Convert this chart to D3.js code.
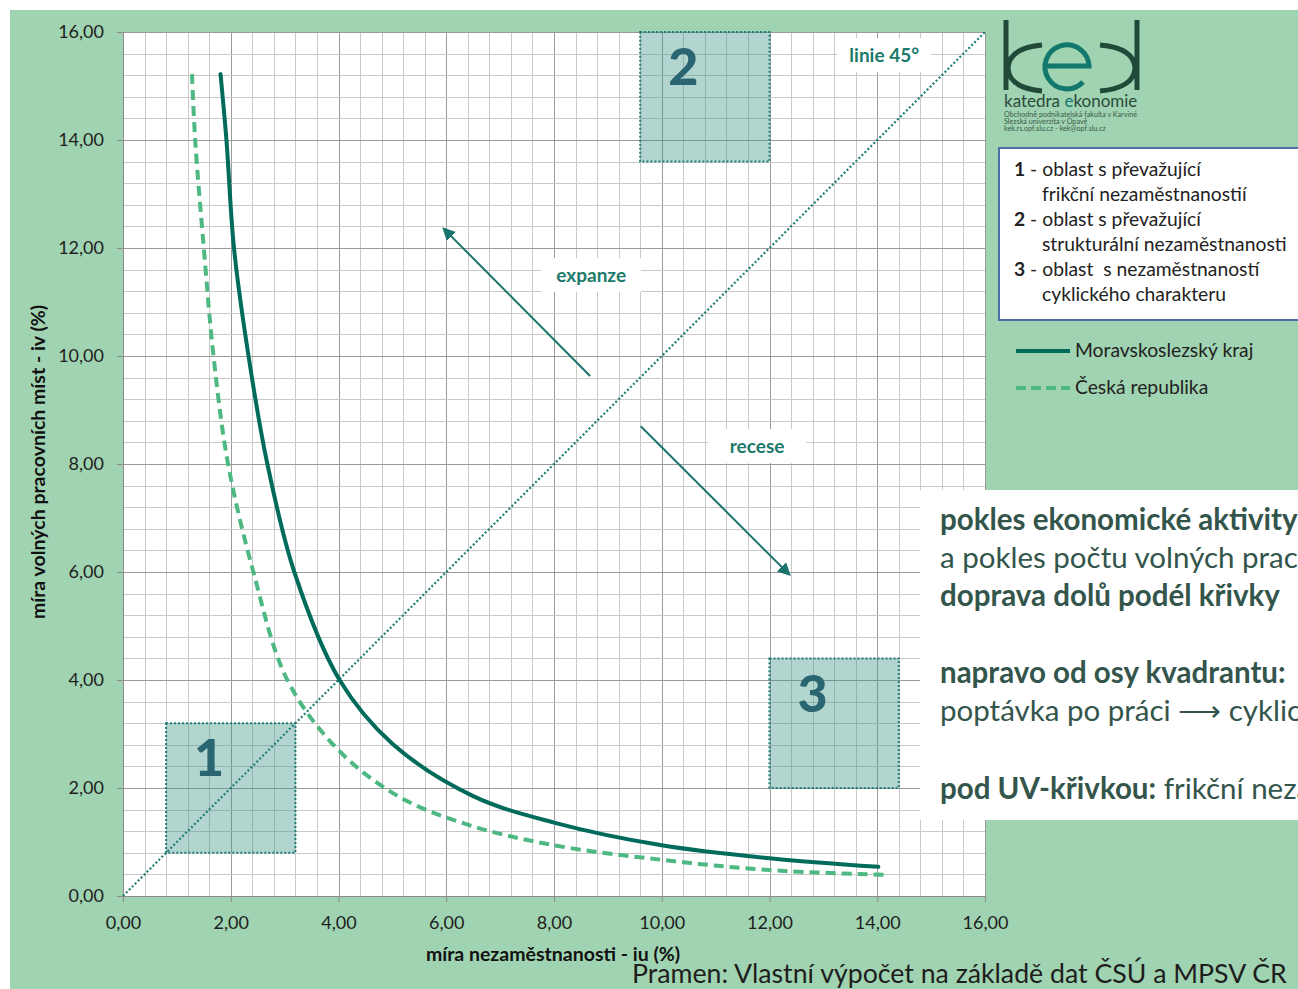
<!DOCTYPE html>
<html><head><meta charset="utf-8">
<script src="https://cdn.jsdelivr.net/npm/d3@7"></script>
<style>
body{margin:0;background:#fff;}
svg{display:block;font-family:Lato,'Open Sans',sans-serif;}
</style>
</head><body>
<svg id="c" width="1298" height="989"></svg>
<script>
// ---------- data ----------
const xTickValues = [0, 2, 4, 6, 8, 10, 12, 14, 16];
const yTickValues = [0, 2, 4, 6, 8, 10, 12, 14, 16];
const seriesNames = ["Moravskoslezský kraj", "Česká republika"];
// Moravskoslezský kraj (solid)
const mskX = [1.81, 1.92, 2.06, 2.33, 2.68, 3.18, 4.02, 5.0, 6.5, 8.0, 10.0, 12.0, 14.02];
const mskY = [15.22, 14.0, 12.0, 10.0, 8.0, 6.0, 4.0, 2.82, 1.85, 1.36, 0.94, 0.70, 0.54];
// Česká republika (dashed)
const crX = [1.28, 1.34, 1.50, 1.68, 1.95, 2.42, 3.05, 4.0, 5.14, 6.5, 8.0, 10.0, 12.0, 14.19];
const crY = [15.22, 14.0, 12.0, 10.0, 8.0, 6.0, 4.0, 2.70, 1.83, 1.29, 0.94, 0.67, 0.48, 0.39];
// line 45°
const diagX = [0, 16];
const diagY = [0, 16];
// regions
const regionNames = ["1", "2", "3"];
const regionX0 = [0.8, 9.6, 12.0];
const regionX1 = [3.2, 12.0, 14.4];
const regionY0 = [0.8, 13.6, 2.0];
const regionY1 = [3.2, 16.0, 4.4];
// arrows in data units
const arrowNames = ["expanze", "recese"];
const arrowFromX = [8.67, 9.61];
const arrowFromY = [9.63, 8.70];
const arrowToX = [5.96, 12.36];
const arrowToY = [12.35, 5.96];
const arrowLabelX = [8.69, 11.77];
const arrowLabelY = [11.50, 8.33];
const diagLabel = "linie 45°";
const diagLabelX = 14.13, diagLabelY = 15.57;
const legendNotes = [
  ["1", " - oblast s převažující", "frikční nezaměstnanostií"],
  ["2", " - oblast s převažující", "strukturální nezaměstnanosti"],
  ["3", " - oblast \u00A0s nezaměstnaností", "cyklického charakteru"]
];
const xTitle = "míra nezaměstnanosti - iu (%)";
const yTitle = "míra volných pracovních míst - iv (%)";
const source = "Pramen: Vlastní výpočet na základě dat ČSÚ a MPSV ČR";

// ---------- layout ----------
const W = 1298, H = 989;
const plot = {left: 123, right: 985, top: 32, bottom: 896};
const svg = d3.select("#c");
const GREEN = "#A0D3B1";
const TEAL = "#006B5B";
const LIGHT = "#4DB882";
const DOT = "#1E7D74";

svg.append("rect").attr("width", W).attr("height", H).attr("fill", "#fff");
svg.append("rect").attr("x", 10).attr("y", 10).attr("width", W - 10).attr("height", H - 10).attr("fill", GREEN);

const x = d3.scaleLinear().domain([0, 16]).range([plot.left, plot.right]);
const y = d3.scaleLinear().domain([0, 16]).range([plot.bottom, plot.top]);
const fmt = d => d.toFixed(2).replace(".", ",");

svg.append("rect").attr("x", plot.left).attr("y", plot.top)
  .attr("width", plot.right - plot.left).attr("height", plot.bottom - plot.top).attr("fill", "#fff");

// grid
const minor = d3.range(0, 16.0001, 0.4).map(v => +v.toFixed(1));
const isMajor = d => Math.abs(d / 2 - Math.round(d / 2)) < 1e-6;
const grid = svg.append("g");
grid.selectAll("line.vx").data(minor).join("line")
  .attr("x1", d => Math.round(x(d)) + 0.5).attr("x2", d => Math.round(x(d)) + 0.5)
  .attr("y1", plot.top).attr("y2", plot.bottom)
  .attr("stroke", d => isMajor(d) ? "#9A9A9A" : "#C9C9C9").attr("stroke-width", 1);
grid.selectAll("line.hy").data(minor).join("line")
  .attr("y1", d => Math.round(y(d)) + 0.5).attr("y2", d => Math.round(y(d)) + 0.5)
  .attr("x1", plot.left).attr("x2", plot.right)
  .attr("stroke", d => isMajor(d) ? "#9A9A9A" : "#C9C9C9").attr("stroke-width", 1);

// axes
const ax = svg.append("g").attr("transform", `translate(0,${plot.bottom})`)
  .call(d3.axisBottom(x).tickValues(xTickValues).tickFormat(fmt).tickSize(6).tickSizeOuter(0).tickPadding(14));
const ay = svg.append("g").attr("transform", `translate(${plot.left},0)`)
  .call(d3.axisLeft(y).tickValues(yTickValues).tickFormat(fmt).tickSize(6).tickSizeOuter(0).tickPadding(13));
[ax, ay].forEach(a => {
  a.select(".domain").attr("stroke", "#8C8C8C");
  a.selectAll(".tick line").attr("stroke", "#8C8C8C");
  a.selectAll(".tick text").attr("font-size", 18).attr("fill", "#1E1E1E").attr("font-family", "Lato, sans-serif");
});

// regions
const regions = regionNames.map((n, i) => ({n, x0: regionX0[i], x1: regionX1[i], y0: regionY0[i], y1: regionY1[i]}));
const rg = svg.append("g");
rg.selectAll("rect").data(regions).join("rect")
  .attr("x", d => x(d.x0)).attr("y", d => y(d.y1))
  .attr("width", d => x(d.x1) - x(d.x0)).attr("height", d => y(d.y0) - y(d.y1))
  .attr("fill", "rgba(65,150,135,0.4)")
  .attr("stroke", DOT).attr("stroke-width", 2).attr("stroke-dasharray", "2,2");
rg.selectAll("text").data(regions).join("text")
  .attr("x", d => x(d.x0 + 0.8)).attr("y", d => y(d.y1 - 0.65) + 18)
  .attr("text-anchor", "middle").attr("font-size", 52).attr("font-weight", 900)
  .attr("fill", "#2A6672").text(d => d.n);

// diagonal
const line = d3.line().x(d => x(d[0])).y(d => y(d[1]));
svg.append("path").datum(diagX.map((v, i) => [v, diagY[i]]))
  .attr("d", line).attr("fill", "none").attr("stroke", DOT)
  .attr("stroke-width", 2.2).attr("stroke-dasharray", "2,2.2");

// arrows
const defs = svg.append("defs");
defs.append("marker").attr("id", "ah").attr("viewBox", "0 0 10 10").attr("refX", 8).attr("refY", 5)
  .attr("markerWidth", 6.5).attr("markerHeight", 6.5).attr("orient", "auto")
  .append("path").attr("d", "M0,0 L10,5 L0,10 z").attr("fill", "#1A736C");
arrowNames.forEach((n, i) => {
  svg.append("line")
    .attr("x1", x(arrowFromX[i])).attr("y1", y(arrowFromY[i]))
    .attr("x2", x(arrowToX[i])).attr("y2", y(arrowToY[i]))
    .attr("stroke", "#1A736C").attr("stroke-width", 2).attr("marker-end", "url(#ah)");
});

// labels with white boxes
function boxLabel(cx, cy, txt, w, h) {
  svg.append("rect").attr("x", cx - w / 2).attr("y", cy - h / 2).attr("width", w).attr("height", h).attr("fill", "#fff");
  svg.append("text").attr("x", cx).attr("y", cy + 6.5).attr("text-anchor", "middle")
    .attr("font-size", 19).attr("font-weight", 700).attr("fill", "#1B7A69").text(txt);
}
boxLabel(x(arrowLabelX[0]), y(arrowLabelY[0]), arrowNames[0], 100, 34);
boxLabel(x(arrowLabelX[1]), y(arrowLabelY[1]), arrowNames[1], 98, 34);
boxLabel(x(diagLabelX), y(diagLabelY), diagLabel, 94, 34);

// curves
const curve = d3.line().x(d => x(d[0])).y(d => y(d[1])).curve(d3.curveCatmullRom.alpha(0.5));
svg.append("path").datum(crX.map((v, i) => [v, crY[i]]))
  .attr("d", curve).attr("fill", "none").attr("stroke", LIGHT).attr("stroke-width", 4)
  .attr("stroke-dasharray", "10,6");
svg.append("path").datum(mskX.map((v, i) => [v, mskY[i]]))
  .attr("d", curve).attr("fill", "none").attr("stroke", TEAL).attr("stroke-width", 4)
  .attr("stroke-linecap", "round");

// axis titles
svg.append("text").attr("x", 553).attr("y", 961).attr("text-anchor", "middle")
  .attr("font-size", 19.5).attr("font-weight", 700).attr("fill", "#111").text(xTitle);
svg.append("text").attr("transform", "translate(45,462) rotate(-90)").attr("text-anchor", "middle")
  .attr("font-size", 19.5).attr("font-weight", 700).attr("fill", "#111").text(yTitle);

// source
svg.append("text").attr("x", 632).attr("y", 983).attr("font-size", 26.7).attr("fill", "#1E1E1E").text(source);

// logo
const logo = svg.append("g").attr("fill", "none").attr("stroke-width", 5);
logo.append("path").attr("d", "M1006,20 L1006,90 M1042,45 Q1009,48 1008,68 Q1009,88 1042,91").attr("stroke", "#1F4A3A");
logo.append("path").attr("d", "M1045,66 L1089,66 A22,22 0 1 0 1083,82").attr("stroke", "#12776D");
logo.append("path").attr("d", "M1137,20 L1137,90 M1100,45 Q1134,48 1135,68 Q1134,88 1100,91").attr("stroke", "#1F4A3A");
const lt = svg.append("text").attr("x", 1004).attr("y", 107).attr("font-size", 17).attr("fill", "#2A4B3C");
lt.append("tspan").text("katedra ");
lt.append("tspan").attr("fill", "#12776D").text("e");
lt.append("tspan").text("konomie");
["Obchodně podnikatelská fakulta v Karviné", "Slezská univerzita v Opavě", "kek.rs.opf.slu.cz - kek@opf.slu.cz"]
  .forEach((t, i) => svg.append("text").attr("x", 1004).attr("y", 117 + i * 7).attr("font-size", 7.2)
    .attr("fill", "#3B5C4C").text(t));

// notes legend box
svg.append("rect").attr("x", 999).attr("y", 148).attr("width", 320).attr("height", 172)
  .attr("fill", "#fff").attr("stroke", "#4F6FA6").attr("stroke-width", 2);
legendNotes.forEach((r, i) => {
  const t = svg.append("text").attr("x", 1014).attr("y", 176 + i * 50).attr("font-size", 19.3).attr("fill", "#222");
  t.append("tspan").attr("font-weight", 700).text(r[0]);
  t.append("tspan").text(r[1]);
  svg.append("text").attr("x", 1042).attr("y", 201 + i * 50).attr("font-size", 19.3).attr("fill", "#222").text(r[2]);
});

// series legend
const lg = svg.append("g");
lg.append("line").attr("x1", 1016).attr("x2", 1070).attr("y1", 351).attr("y2", 351)
  .attr("stroke", TEAL).attr("stroke-width", 4);
lg.append("line").attr("x1", 1016).attr("x2", 1070).attr("y1", 388).attr("y2", 388)
  .attr("stroke", LIGHT).attr("stroke-width", 4).attr("stroke-dasharray", "10,5");
lg.append("text").attr("x", 1075).attr("y", 357).attr("font-size", 19.3).attr("fill", "#222").text(seriesNames[0]);
lg.append("text").attr("x", 1075).attr("y", 394).attr("font-size", 19.3).attr("fill", "#222").text(seriesNames[1]);

// explanatory text box
defs.append("clipPath").attr("id", "tb").append("rect").attr("x", 920).attr("y", 490).attr("width", 378).attr("height", 330);
svg.append("rect").attr("x", 920).attr("y", 490).attr("width", 378).attr("height", 330).attr("fill", "#fff");
const tb = svg.append("g").attr("clip-path", "url(#tb)").attr("font-size", 29.5).attr("fill", "#33554B");
const tbLines = [
  [["pokles ekonomické aktivity", 700]],
  [["a pokles počtu volných prac", 400]],
  [["doprava dolů podél křivky", 700]],
  [["napravo od osy kvadrantu:", 700]],
  [["poptávka po práci \u27F6 cyklick", 400]],
  [["pod UV-křivkou:", 700], [" frikční neza", 400]]
];
const tbY = [530, 568, 606, 683, 721, 799];
tbLines.forEach((segs, i) => {
  const t = tb.append("text").attr("x", 940).attr("y", tbY[i]);
  segs.forEach(s => t.append("tspan").attr("font-weight", s[1]).text(s[0]));
});
</script>
</body></html>
